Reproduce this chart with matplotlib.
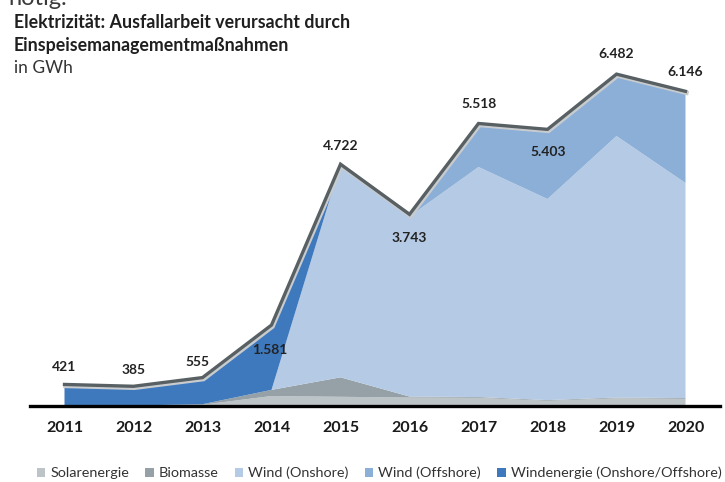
import matplotlib
matplotlib.use("Agg")
import matplotlib.pyplot as plt
from matplotlib.patches import Patch

years = [2011, 2012, 2013, 2014, 2015, 2016, 2017, 2018, 2019, 2020]
solar = [5, 10, 25, 195, 180, 165, 160, 100, 150, 140]
biomasse = [0, 0, 10, 120, 380, 20, 15, 15, 15, 15]
wind_onshore = [0, 0, 0, 0, 4162, 3518, 4493, 3928, 5108, 4200]
wind_offshore = [0, 0, 0, 0, 0, 40, 850, 1360, 1209, 1791]
windenergie = [416, 375, 520, 1266, 0, 0, 0, 0, 0, 0]
totals = [421, 385, 555, 1581, 4722, 3743, 5518, 5403, 6482, 6146]
total_labels = ["421", "385", "555", "1.581", "4.722", "3.743", "5.518", "5.403", "6.482", "6.146"]
series_names = ["Solarenergie", "Biomasse", "Wind (Onshore)", "Wind (Offshore)",
                "Windenergie (Onshore/Offshore)"]
colors = ["#bcc4c8", "#95a1a7", "#b5cae4", "#8cafd7", "#3e79bd"]

# label offsets in pixels (dx, dy)
label_offsets = [(0, 17), (0, 16), (-5, 16), (-2, -25), (0, 18), (0, -24),
                 (1, 19), (1, -23), (0, 20), (0, 19)]

plt.rcParams['font.family'] = ['Lato', 'DejaVu Sans']

fig = plt.figure(figsize=(7.25, 4.82), dpi=100)
ax = fig.add_axes([30/725, 1 - 406/482, 690/725, (406 - 47.6)/482])

ax.stackplot(years, solar, biomasse, wind_onshore, wind_offshore, windenergie,
             colors=colors, linewidth=0)
# shadow + total line
ax.plot(years, totals, color="#c9cccf", lw=3.2, solid_joinstyle='miter',
        transform=ax.transData + matplotlib.transforms.ScaledTranslation(1/100, -1.5/100, fig.dpi_scale_trans))
ax.plot(years, totals, color="#586064", lw=2.4, solid_joinstyle='miter')

for x, y, s, (dx, dy) in zip(years, totals, total_labels, label_offsets):
    ax.annotate(s, (x, y), xytext=(dx, dy), textcoords='offset pixels',
                ha='center', va='center', fontsize=10, fontweight='bold',
                color="#222222")

ax.set_xlim(2010.5, 2020.5)
ax.set_ylim(0, 7000)
ax.set_xticks(years)
ax.set_xticklabels([str(y) for y in years], fontsize=11.5, fontweight='bold', color="#1a1a1a")
ax.tick_params(axis='x', length=0, pad=11)
ax.set_yticks([])
for s in ['top', 'right', 'left']:
    ax.spines[s].set_visible(False)
ax.spines['bottom'].set_linewidth(2.4)
ax.spines['bottom'].set_color('black')

fig.text(8/725, 1 - 5/482, "nötig.", fontsize=17, color="#3a3a3a", ha='left', va='baseline')
fig.text(14/725, 1 - 22/482, "Elektrizität: Ausfallarbeit verursacht durch",
         fontsize=12.8, fontweight='bold', color="#1f1f1f", ha='left', va='center')
fig.text(14/725, 1 - 45/482, "Einspeisemanagementmaßnahmen",
         fontsize=12.8, fontweight='bold', color="#1f1f1f", ha='left', va='center')
fig.text(14/725, 1 - 68/482, "in GWh", fontsize=12.5, color="#333333", ha='left', va='center')

handles = [Patch(facecolor=c, edgecolor='none', label=n) for c, n in zip(colors, series_names)]
fig.legend(handles=handles, loc='center', bbox_to_anchor=(379/725, 1 - 473/482), ncol=5,
           frameon=False, fontsize=10.4, handlelength=0.6, handleheight=0.6,
           handletextpad=0.35, columnspacing=1.1, labelcolor="#333333")

fig.savefig("out.png", dpi=100)
